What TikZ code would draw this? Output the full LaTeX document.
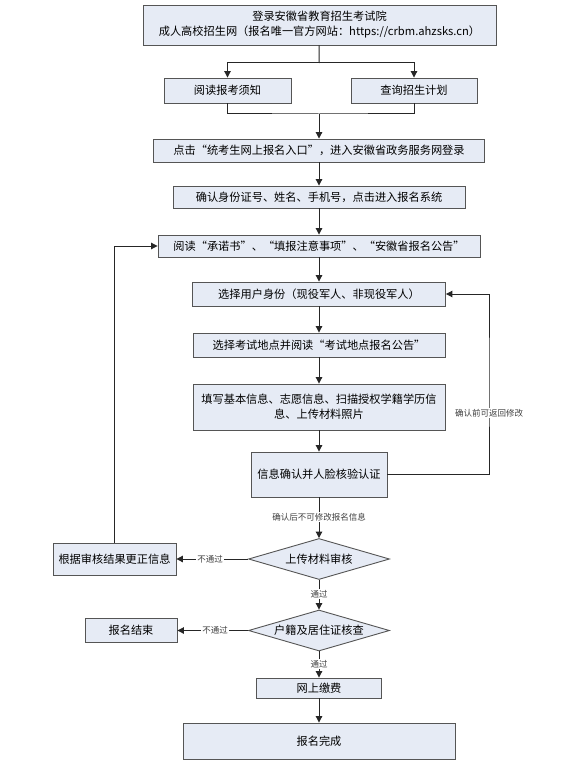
\documentclass[tikz,border=0pt]{standalone}
\usepackage{fontspec}
\setmainfont{Noto Sans CJK SC}
\usetikzlibrary{shapes.geometric,arrows.meta}
\definecolor{boxfill}{HTML}{E6EBF5}
\definecolor{boxline}{HTML}{555555}
\begin{document}
\begin{tikzpicture}[x=1pt,y=-1pt,
  box/.style={draw=boxline, line width=0.9pt, fill=boxfill, inner sep=0pt, align=center, font=\fontsize{11.2}{15}\selectfont},
  dia/.style={diamond, aspect=3.4, draw=boxline, line width=0.9pt, fill=boxfill, inner sep=0pt, font=\fontsize{11.2}{15}\selectfont, minimum width=141pt, minimum height=41pt},
  arr/.style={-{Triangle[length=6.5pt,width=6.5pt]}, line width=1pt, draw=black!85},
  ln/.style={line width=1pt, draw=black!85},
  lbl/.style={font=\fontsize{8.5}{10}\selectfont, fill=white, inner sep=1pt, text=black!75},
]
\fill[white] (0,0) rectangle (573,770);
\useasboundingbox (0,0) rectangle (573,770);

\node[box, minimum width=353pt, minimum height=40pt] (top) at (319.5,25) {登录安徽省教育招生考试院\\成人高校招生网（报名唯一官方网站：https://crbm.ahzsks.cn）};
\node[box, minimum width=127pt, minimum height=25pt] (read) at (227.5,90.5) {阅读报考须知};
\node[box, minimum width=126pt, minimum height=25pt] (plan) at (414,90.5) {查询招生计划};
\node[box, minimum width=331pt, minimum height=23pt] (b3) at (319,150.5) {点击“统考生网上报名入口”，进入安徽省政务服务网登录};
\node[box, minimum width=292pt, minimum height=22pt] (b4) at (319,197) {确认身份证号、姓名、手机号，点击进入报名系统};
\node[box, minimum width=322pt, minimum height=22pt] (b5) at (319,246) {阅读“承诺书”、“填报注意事项”、“安徽省报名公告”};
\node[box, minimum width=253pt, minimum height=24pt] (b6) at (319,294) {选择用户身份（现役军人、非现役军人）};
\node[box, minimum width=252pt, minimum height=24pt] (b7) at (319,345) {选择考试地点并阅读“考试地点报名公告”};
\node[box, minimum width=252pt, minimum height=46pt] (b8) at (319,407) {填写基本信息、志愿信息、扫描授权学籍学历信\\息、上传材料照片};
\node[box, minimum width=136pt, minimum height=45pt] (b9) at (319,474.5) {信息确认并人脸核验认证};
\node[dia] (d1) at (319,559) {上传材料审核};
\node[box, minimum width=123pt, minimum height=32pt] (fix) at (114.5,559) {根据审核结果更正信息};
\node[dia] (d2) at (319,630.5) {户籍及居住证核查};
\node[box, minimum width=92pt, minimum height=24pt] (end) at (131,630.5) {报名结束};
\node[box, minimum width=125pt, minimum height=20pt] (pay) at (319,688) {网上缴费};
\node[box, minimum width=272pt, minimum height=36pt] (done) at (319,741) {报名完成};

\coordinate (j1) at (319,63);
\coordinate (j2) at (319,114);
\coordinate (rl) at (489,380);

\draw[ln] (top) -- (j1);
\draw[arr] (j1) -| (read);
\draw[arr] (j1) -| (plan);
\draw[ln] (read.south) |- (j2) -| (plan.south);
\draw[arr] (j2) -- (b3);
\draw[arr] (b3) -- (b4);
\draw[arr] (b4) -- (b5);
\draw[arr] (b5) -- (b6);
\draw[arr] (b6) -- (b7);
\draw[arr] (b7) -- (b8);
\draw[arr] (b8) -- (b9);
\draw[arr] (b9.east) -| (rl) |- (b6.east);
\node[lbl] (l1) at (489,413) {确认前可返回修改};
\draw[arr] (b9) -- (d1);
\node[lbl] (l2) at (319,517) {确认后不可修改报名信息};
\draw[arr] (d1.west) -- (fix.east);
\node[lbl] (l3) at (210,559) {不通过};
\draw[arr] (fix.north) |- (b5.west);
\draw[arr] (d1) -- (d2);
\node[lbl] (l4) at (319,594) {通过};
\draw[arr] (d2.west) -- (end.east);
\node[lbl] (l5) at (215,630.5) {不通过};
\draw[arr] (d2) -- (pay);
\node[lbl] (l6) at (319,664) {通过};
\draw[arr] (pay) -- (done);
\end{tikzpicture}
\end{document}
